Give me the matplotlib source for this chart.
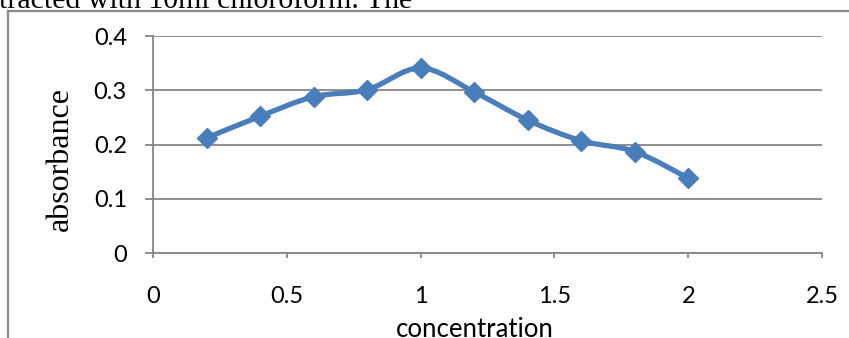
import matplotlib
matplotlib.use("Agg")
from matplotlib import pyplot as plt
from matplotlib.path import Path
from matplotlib.patches import PathPatch
from matplotlib.lines import Line2D
import numpy as np

# data
concentration = [0.2, 0.4, 0.6, 0.8, 1.0, 1.2, 1.4, 1.6, 1.8, 2.0]
absorbance = [0.212, 0.252, 0.288, 0.301, 0.341, 0.297, 0.245, 0.207, 0.187, 0.138]
x_ticks = [0, 0.5, 1, 1.5, 2, 2.5]
x_tick_labels = ["0", "0.5", "1", "1.5", "2", "2.5"]
y_ticks = [0, 0.1, 0.2, 0.3, 0.4]
y_tick_labels = ["0", "0.1", "0.2", "0.3", "0.4"]

W, H = 849, 338
PT = 0.72  # points per pixel at dpi 100
blue = "#4a7ebb"
gray = "#868686"
tick_font = "Lato"


def smooth_path(xs, ys):
    """Excel style smoothed line: cubic bezier segments through the points"""
    pts = np.column_stack([xs, ys])
    verts = [pts[0]]
    codes = [Path.MOVETO]
    for i in range(len(pts) - 1):
        p0 = pts[i - 1] if i > 0 else pts[i]
        p1 = pts[i]
        p2 = pts[i + 1]
        p3 = pts[i + 2] if i + 2 < len(pts) else pts[i + 1]
        c1 = p1 + (p2 - p0) / 6.0
        c2 = p2 - (p3 - p1) / 6.0
        verts += [c1, c2, p2]
        codes += [Path.CURVE4] * 3
    return Path(verts, codes)


fig = plt.figure(figsize=(W / 100, H / 100), dpi=100)
ax = fig.add_axes([153 / W, 1 - 253 / H, (822 - 153) / W, (253 - 36) / H])

ax.set_xlim(0, 2.5)
ax.set_ylim(0, 0.4)

ax.yaxis.grid(True, color=gray, linewidth=1.3)
ax.set_axisbelow(True)

ax.add_patch(PathPatch(smooth_path(concentration, absorbance), fill=False,
                       edgecolor=blue, linewidth=3.8, capstyle="round", zorder=3))
ax.plot(concentration, absorbance, linestyle="none", marker="D", markersize=10.5,
        color=blue, zorder=4)

for side in ["top", "right"]:
    ax.spines[side].set_visible(False)
for side in ["left", "bottom"]:
    ax.spines[side].set_color(gray)
    ax.spines[side].set_linewidth(1.3)

ax.set_xticks(x_ticks)
ax.set_xticklabels(x_tick_labels, fontfamily=tick_font, fontsize=17)
ax.set_yticks(y_ticks)
ax.set_yticklabels(y_tick_labels, fontfamily=tick_font, fontsize=17)
ax.tick_params(axis="x", direction="out", length=5 * PT, width=1.3, color=gray, pad=20)
ax.tick_params(axis="y", direction="out", length=8 * PT, width=1.3, color=gray, pad=18 * PT)

fig.text(475 / W, 1 / H, "concentration", ha="center", va="baseline",
         fontfamily=tick_font, fontsize=18.5)
fig.text(60 / W, 1 - 159 / H, "absorbance", ha="center", va="center", rotation=90,
         fontfamily="Liberation Serif", fontsize=23)

# text of the page above the chart, cut by the crop
fig.text(-1 / W, 1 - 8 / H, "tracted with 10ml chloroform. The", ha="left", va="baseline",
         fontfamily="Liberation Serif", fontsize=21.5)

# chart area frame
fig.add_artist(Line2D([8 / W, 1.0], [1 - 11 / H, 1 - 11 / H], color="#8a8a8a", linewidth=1.6))
fig.add_artist(Line2D([8 / W, 8 / W], [1 - 11 / H, 0.0], color="#8a8a8a", linewidth=1.6))

fig.savefig("out.png", dpi=100)
